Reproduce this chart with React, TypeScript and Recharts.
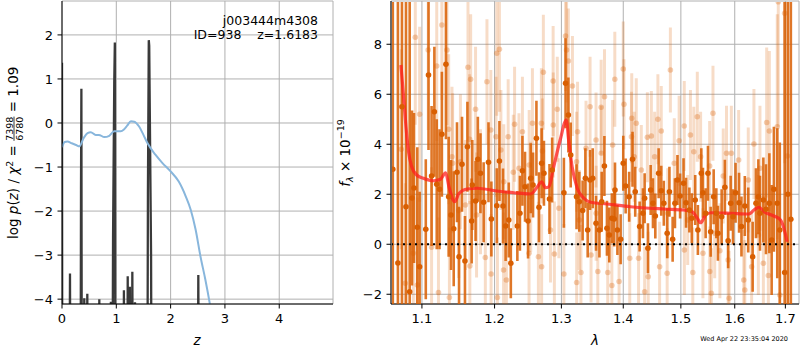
import React from 'react';
import { ComposedChart, Line, Scatter, ErrorBar, XAxis, YAxis, CartesianGrid, ReferenceLine } from 'recharts';

const FONT = 'DejaVu Sans';

// ---------- left panel: log p(z) ----------
const zTicks = [0, 1, 2, 3, 4];
const pzTicks = [-4, -3, -2, -1, 0, 1, 2];

const pzSpikes: [number, number][] = [
  [0, 1.37], [0.006, -8], [0.135, -8], [0.147, -3.42], [0.16, -8],
  [0.34, -8], [0.35, -1.5], [0.357, 0.78], [0.366, -8],
  [0.4, -8], [0.41, -3.98], [0.42, -8], [0.455, -8], [0.466, -3.88], [0.478, -8],
  [0.675, -8], [0.687, -4.0], [0.7, -8], [0.89, -8], [0.9, -4.06], [0.925, -8],
  [0.94, -2.6], [0.962, 0.9], [0.973, 1.83], [0.984, -8],
  [1.13, -8], [1.14, -3.8], [1.15, -8], [1.2, -8], [1.21, -3.48], [1.225, -8],
  [1.24, -8], [1.25, -3.72], [1.26, -8], [1.285, -8], [1.295, -3.38], [1.31, -8],
  [1.335, -8], [1.344, -4.07], [1.355, -8],
  [1.57, -8], [1.582, -1.6], [1.598, 1.88], [1.606, 1.75], [1.64, -3.0], [1.652, -8],
  [2.495, -8], [2.51, -3.45], [2.525, -8], [4.99, -8],
];

const pzSmooth: [number, number][] = [
  [0, -0.55], [0.05, -0.43], [0.1, -0.42], [0.18, -0.46], [0.26, -0.5], [0.32, -0.53],
  [0.4, -0.34], [0.47, -0.23], [0.53, -0.21], [0.62, -0.27], [0.68, -0.27], [0.78, -0.32],
  [0.87, -0.29], [0.96, -0.19], [1.08, -0.19], [1.14, -0.15], [1.2, -0.06], [1.27, 0.04],
  [1.33, 0.03], [1.42, -0.08], [1.5, -0.27], [1.57, -0.45], [1.72, -0.72], [1.85, -0.91],
  [2.0, -1.1], [2.15, -1.33], [2.28, -1.67], [2.37, -1.97], [2.46, -2.42], [2.55, -3.03],
  [2.64, -3.56], [2.72, -4.09], [2.8, -4.7],
];

// ---------- right panel: spectrum ----------
const wTicks = [1.1, 1.2, 1.3, 1.4, 1.5, 1.6, 1.7];
const fTicks = [-2, 0, 2, 4, 6, 8];

// [wavelength, flux, error]
const darkPts: [number, number, number][] = [
  [1.0623, 3.0, 20], [1.0688, -0.75, 20], [1.074, 5.5, 20], [1.0792, 1.5, 20], [1.084, -1.9, 20],
  [1.087, 1.85, 3.5], [1.0896, 2.25, 3.0], [1.0939, 0.68, 3.2], [1.097, -0.9, 3.0],
  [1.1051, 0.6, 2.8], [1.1087, 6.77, 3.0], [1.1128, 2.73, 2.8], [1.1165, 5.3, 2.6],
  [1.1197, 2.4, 2.6], [1.1234, 2.2, 2.4], [1.1266, 4.4, 2.5], [1.1321, 7.2, 3.0],
  [1.1358, 1.9, 2.4], [1.139, 1.17, 2.2], [1.1427, 0.62, 2.3], [1.1472, 2.88, 2.0],
  [1.15, -0.5, 2.0], [1.1541, 3.2, 1.9], [1.1582, -0.67, 1.8], [1.1616, 3.9, 1.8],
  [1.1675, 0.93, 1.7], [1.1684, 2.37, 1.8], [1.173, 1.73, 1.6], [1.1762, 3.4, 1.7],
  [1.1799, 2.84, 1.6], [1.1844, 1.68, 1.6], [1.1913, 3.28, 1.6], [1.1954, 1.01, 1.5],
  [1.2032, 1.54, 1.5], [1.207, 3.33, 1.6], [1.2122, 1.53, 1.5], [1.216, 0.73, 1.4],
  [1.2206, 0.97, 1.5], [1.2236, -0.76, 1.4], [1.2332, 0.73, 1.4], [1.237, 1.24, 1.5],
  [1.2407, 2.94, 1.4], [1.2446, 2.3, 1.4], [1.2491, 0.93, 1.5], [1.2531, 2.64, 1.4],
  [1.2566, 2.37, 1.3], [1.2617, 4.24, 1.5], [1.2656, 1.48, 1.4], [1.2696, 3.24, 1.4],
  [1.2731, 2.84, 1.3], [1.2816, 1.81, 1.4], [1.2857, 2.97, 1.3], [1.3039, 2.06, 1.4],
  [1.3065, 6.44, 1.8], [1.3109, 5.17, 1.5], [1.3146, 3.57, 1.3], [1.3238, 1.9, 1.3],
  [1.3282, 1.7, 1.2], [1.3335, 1.35, 1.2], [1.3379, 2.64, 1.2], [1.3416, 0.57, 1.1],
  [1.3454, 2.57, 1.2], [1.3497, 2.64, 1.2], [1.3551, 0.84, 1.1], [1.3606, 0.57, 1.1],
  [1.3643, 1.7, 1.2], [1.3687, 3.13, 1.2], [1.3729, 0.64, 1.1], [1.3768, 0.37, 1.1],
  [1.381, 1.04, 1.0], [1.3849, 1.01, 1.1], [1.3862, 2.17, 1.1], [1.3902, 0.57, 1.0],
  [1.3956, 0.2, 1.0], [1.4, 3.24, 1.1], [1.404, 2.33, 1.1], [1.4099, 1.9, 1.0],
  [1.4156, 3.4, 1.1], [1.4202, 2.1, 1.0], [1.4277, 0.71, 1.0], [1.4334, 1.24, 1.0],
  [1.4363, 1.84, 1.0], [1.442, -0.16, 1.0], [1.4467, 2.17, 1.0], [1.4507, 1.64, 1.0],
  [1.4548, 1.13, 0.9], [1.4606, 2.84, 1.0], [1.4652, 2.14, 1.0], [1.4697, 1.64, 0.9],
  [1.4756, 0.44, 1.0], [1.4796, 2.1, 1.0], [1.4853, 0.2, 0.9], [1.4894, 1.64, 1.0],
  [1.4939, 2.57, 1.0], [1.4986, 1.93, 0.9], [1.5048, 2.44, 1.0], [1.5093, 1.66, 1.0],
  [1.5154, 1.37, 0.9], [1.5197, 1.04, 1.0], [1.526, 1.77, 1.0], [1.5309, 0.57, 1.0],
  [1.5372, 2.84, 1.0], [1.5402, 2.06, 1.0], [1.5452, 1.24, 1.0], [1.5495, 2.84, 1.1],
  [1.5545, 0.5, 1.0], [1.5601, 1.9, 1.1], [1.5651, 1.24, 1.0], [1.5681, 0.44, 1.1],
  [1.5751, 1.1, 1.1], [1.5812, 2.28, 1.1], [1.5874, 0.14, 1.1], [1.5922, 1.64, 1.1],
  [1.5967, 1.1, 1.1], [1.6016, 2.06, 1.2], [1.6083, 1.66, 1.2], [1.6129, 0.71, 1.2],
  [1.6194, 1.53, 1.2], [1.6261, 0.97, 1.3], [1.6347, -0.5, 1.4], [1.6412, 1.64, 1.4],
  [1.6459, 1.9, 1.5], [1.6491, 1.24, 1.5], [1.6558, 1.77, 1.7], [1.661, 1.4, 1.8],
  [1.6677, 1.64, 2.0], [1.6723, 0.17, 2.2], [1.6768, 2.2, 2.5], [1.6836, 1.64, 3.0],
  [1.6887, 0.57, 3.5], [1.6986, -1.13, 20], [1.7051, 2.0, 20], [1.7112, 1.0, 20],
];

const lightPts: [number, number, number][] = [
  [1.0731, 3.8, 4.0], [1.0783, -1.56, 4.0], [1.0887, -0.36, 3.5], [1.0913, 8.28, 3.5],
  [1.0939, -1.63, 3.5], [1.097, 5.2, 3.5], [1.1083, 7.77, 3.2], [1.1128, -0.12, 3.2],
  [1.1197, 7.13, 3.0], [1.122, -1.93, 3.0], [1.1266, 8.77, 3.0], [1.1335, 7.77, 3.0],
  [1.1358, 4.6, 3.0], [1.1368, -2.13, 2.8], [1.1403, 3.5, 2.8], [1.1412, 3.24, 2.8],
  [1.1496, 1.35, 2.7], [1.1519, 3.3, 2.7], [1.1588, 1.57, 2.6], [1.1624, 7.08, 2.8],
  [1.1647, 4.2, 2.6], [1.165, -0.87, 2.6], [1.1661, 6.6, 2.6], [1.173, 5.4, 2.5],
  [1.1744, 1.17, 2.5], [1.1799, 2.1, 2.5], [1.1868, -0.53, 2.5], [1.1891, 6.5, 2.5],
  [1.1946, 4.57, 2.4], [1.195, -1.19, 2.4], [1.2021, 4.3, 2.4], [1.2032, 7.64, 2.5],
  [1.2041, -2.13, 2.4], [1.207, 7.8, 2.5], [1.2091, 3.77, 2.4], [1.213, -1.03, 2.3],
  [1.2133, 2.5, 2.3], [1.2171, -1.43, 2.3], [1.2197, 4.3, 2.3], [1.2272, 2.88, 2.3],
  [1.2291, 4.8, 2.3], [1.2356, 3.04, 2.2], [1.2407, 4.5, 2.2], [1.2506, -0.36, 2.2],
  [1.2508, 3.17, 2.2], [1.2531, 1.9, 2.2], [1.2557, 4.84, 2.2], [1.2647, -0.5, 2.2],
  [1.2692, 4.84, 2.2], [1.2696, -0.9, 2.1], [1.2707, 3.73, 2.1], [1.2722, 6.88, 2.3],
  [1.2831, 0.57, 2.1], [1.2872, 6.53, 2.2], [1.2874, 4.77, 2.1], [1.2891, -0.39, 2.1],
  [1.2936, 5.4, 2.1], [1.2961, 1.44, 2.0], [1.3039, -1.19, 2.0], [1.3065, 8.33, 2.2],
  [1.3081, 7.77, 2.1], [1.3109, 7.33, 2.1], [1.3173, 6.33, 2.0], [1.3238, 3.3, 2.0],
  [1.324, -1.53, 2.0], [1.3254, 4.5, 2.0], [1.3282, 0.97, 2.0], [1.3308, -1.13, 1.9],
  [1.3389, 3.84, 1.9], [1.3454, 5.5, 2.0], [1.347, -0.43, 1.9], [1.3551, 4.17, 1.9],
  [1.3553, 1.24, 1.9], [1.358, -1.09, 1.9], [1.3634, 5.48, 1.9], [1.3636, 3.64, 1.9],
  [1.3689, 5.9, 1.9], [1.3742, -1.13, 1.8], [1.381, -1.65, 1.8], [1.3823, 3.97, 1.8],
  [1.3859, 6.6, 1.9], [1.393, -1.49, 1.8], [1.4, 7.01, 1.9], [1.4012, 5.6, 1.8],
  [1.4109, -0.56, 1.8], [1.4138, 4.3, 1.8], [1.4143, 5.04, 1.8], [1.4185, 3.5, 1.8],
  [1.422, 4.84, 1.8], [1.4259, -0.56, 1.8], [1.4306, 2.97, 1.8], [1.4363, -1.9, 1.8],
  [1.441, 4.28, 1.8], [1.4425, -1.3, 1.8], [1.4479, 4.33, 1.8], [1.4536, 3.5, 1.8],
  [1.4593, 5.0, 1.8], [1.4623, -0.9, 1.8], [1.4652, 4.53, 1.8], [1.4756, -1.16, 1.8],
  [1.4766, 1.24, 1.8], [1.4813, 6.97, 1.7], [1.4882, 3.24, 1.8], [1.4969, 4.14, 1.8],
  [1.5061, 4.73, 1.8], [1.5063, -0.23, 1.8], [1.5123, 0.97, 1.8], [1.5173, 4.37, 1.8],
  [1.5216, -1.13, 1.8], [1.5234, 3.7, 1.8], [1.5298, 5.1, 1.8], [1.5359, 3.5, 1.8],
  [1.5402, -0.36, 1.8], [1.5526, 3.13, 1.8], [1.5528, -1.09, 1.8], [1.5558, -1.96, 1.8],
  [1.5588, 5.24, 1.9], [1.562, 0.44, 1.8], [1.5718, -0.26, 1.9], [1.5781, 2.73, 1.9],
  [1.5843, 3.64, 1.9], [1.5874, -0.63, 1.9], [1.5892, -2.16, 1.9], [1.5935, 3.64, 1.9],
  [1.6075, 3.37, 2.0], [1.6174, -1.43, 2.0], [1.6194, -1.83, 2.0], [1.6261, 2.57, 2.1],
  [1.6327, -0.9, 2.2], [1.6372, 4.01, 2.2], [1.6459, 0.37, 2.4], [1.6491, 3.04, 2.5],
  [1.6558, -0.76, 2.7], [1.6624, 4.87, 3.0], [1.6657, -1.25, 3.0], [1.6677, 4.53, 3.2],
  [1.6836, 4.7, 4.5], [1.6856, 9.7, 5.0], [1.6887, -2.03, 5.0], [1.6986, 9.24, 6.0],
  [1.7041, 3.53, 8.0],
];

const modelPts: [number, number][] = [
  [1.0727, 7.17], [1.0757, 6.04], [1.0792, 4.7], [1.0822, 3.77], [1.0866, 3.1],
  [1.0931, 2.77], [1.1018, 2.64], [1.1156, 2.54], [1.1248, 2.6], [1.1317, 2.86],
  [1.1362, 2.3], [1.1441, 1.7], [1.15, 2.04], [1.1616, 2.21], [1.1753, 2.24],
  [1.2032, 2.13], [1.2281, 2.06], [1.2531, 2.01], [1.2632, 2.3], [1.2696, 2.5],
  [1.2756, 2.26], [1.2806, 2.3], [1.2881, 3.1], [1.2981, 4.17], [1.3076, 4.97],
  [1.3113, 4.17], [1.3168, 3.1], [1.3249, 2.24], [1.3356, 1.84], [1.3465, 1.68],
  [1.3735, 1.61], [1.4121, 1.5], [1.4697, 1.41], [1.5048, 1.37], [1.5205, 1.3],
  [1.5298, 1.04], [1.5359, 0.86], [1.5452, 1.17], [1.5545, 1.26], [1.5917, 1.24],
  [1.6273, 1.21], [1.6372, 1.37], [1.6471, 1.48], [1.657, 1.3], [1.6768, 1.13],
  [1.6901, 0.97], [1.698, 0.57], [1.7035, 0.1],
];

const spikeData = pzSpikes.map(([z, v]) => ({ z, v }));
const smoothData = pzSmooth.map(([z, v]) => ({ z, v }));
const darkData = darkPts.map(([w, f, e]) => ({ w, f, e }));
const lightData = lightPts.map(([w, f, e]) => ({ w, f, e }));
const modelData = modelPts.map(([w, f]) => ({ w, f }));

const minus = (v: number) => String(v).replace('-', '\u2212');
const tickStyle = { fill: '#000', fontSize: 13, fontFamily: FONT };

const darkDot = (p: any) => <circle cx={p.cx} cy={p.cy} r={2.8} fill="#d95f02" />;
const lightDot = (p: any) => <circle cx={p.cx} cy={p.cy} r={2.8} fill="rgba(217,95,2,0.3)" />;

const W_DOMAIN: [number, number] = [1.06, 1.728];
const F_DOMAIN: [number, number] = [-2.39, 9.73];
const MARGIN = { top: 1, right: 1, bottom: 16, left: 0 };

export default function App() {
  return (
    <div style={{ position: 'fixed', left: 0, top: 0, width: 800, height: 350, background: '#fff' }}>
      {/* left panel */}
      <div style={{ position: 'absolute', left: 0, top: 0 }}>
        <ComposedChart width={340} height={350} margin={{ top: 1, right: 7, bottom: 16, left: 0 }}>
          <CartesianGrid stroke="#b0b0b0" strokeWidth={1} />
          <XAxis dataKey="z" type="number" domain={[0, 4.99]} ticks={zTicks} allowDataOverflow height={30}
            tickSize={4.5} tickMargin={5} tick={tickStyle} stroke="#000" tickFormatter={minus} />
          <YAxis type="number" domain={[-4.11, 2.77]} ticks={pzTicks} allowDataOverflow width={62}
            tickSize={4.5} tickMargin={4.5} tick={tickStyle} stroke="#000" tickFormatter={minus} />
          <XAxis xAxisId="top" orientation="top" type="number" domain={[0, 4.99]} height={0} tick={false} tickLine={false} stroke="#000" />
          <YAxis yAxisId="right" orientation="right" type="number" domain={[-4.11, 2.77]} width={0} tick={false} tickLine={false} stroke="#000" />
          <Line data={spikeData} dataKey="v" type="linear" stroke="#3a3a3a" strokeWidth={2.3} dot={false} isAnimationActive={false} />
          <Line data={smoothData} dataKey="v" type="monotone" stroke="#88b6dc" strokeWidth={2} dot={false} isAnimationActive={false} />
        </ComposedChart>
      </div>
      {/* right panel: axes, grid, spines */}
      <div style={{ position: 'absolute', left: 330, top: 0 }}>
        <ComposedChart width={470} height={350} margin={MARGIN}>
          <CartesianGrid stroke="#b0b0b0" strokeWidth={1} />
          <XAxis dataKey="w" type="number" scale="log" domain={W_DOMAIN} ticks={wTicks} allowDataOverflow height={30}
            tickSize={4.5} tickMargin={5} tick={tickStyle} stroke="#000" tickFormatter={(v: number) => v.toFixed(1)} />
          <YAxis dataKey="f" type="number" domain={F_DOMAIN} ticks={fTicks} allowDataOverflow width={61}
            tickSize={4.5} tickMargin={4.5} tick={tickStyle} stroke="#000" tickFormatter={minus} />
          <XAxis xAxisId="top" orientation="top" type="number" domain={[0, 1]} height={0} tick={false} tickLine={false} stroke="#000" />
          <YAxis yAxisId="right" orientation="right" type="number" domain={[0, 1]} width={0} tick={false} tickLine={false} stroke="#000" />
        </ComposedChart>
      </div>
      {/* right panel: data, clipped to the plot area */}
      <div style={{ position: 'absolute', left: 391.5, top: 1.5, width: 407, height: 302, overflow: 'hidden' }}>
        <div style={{ position: 'absolute', left: -61.5, top: -1.5 }}>
          <ComposedChart width={470} height={350} margin={MARGIN}>
            <XAxis dataKey="w" type="number" scale="log" domain={W_DOMAIN} allowDataOverflow height={30}
              tick={false} tickLine={false} axisLine={false} />
            <YAxis dataKey="f" type="number" domain={F_DOMAIN} allowDataOverflow width={61}
              tick={false} tickLine={false} axisLine={false} />
            <Scatter data={lightData} dataKey="f" shape={lightDot} isAnimationActive={false}>
              <ErrorBar dataKey="e" direction="y" width={0} stroke="rgba(217,95,2,0.22)" strokeWidth={3} />
            </Scatter>
            <Scatter data={darkData} dataKey="f" shape={darkDot} isAnimationActive={false}>
              <ErrorBar dataKey="e" direction="y" width={0} stroke="rgba(217,95,2,0.85)" strokeWidth={2.6} />
            </Scatter>
            <Line data={modelData} dataKey="f" type="monotone" stroke="rgba(255,30,30,0.75)" strokeWidth={3.2} dot={false} isAnimationActive={false} />
            <ReferenceLine y={0} stroke="#000" strokeWidth={2} strokeDasharray="2 4" />
          </ComposedChart>
        </div>
      </div>
      <svg width={800} height={350} style={{ position: 'absolute', left: 0, top: 0, pointerEvents: 'none' }} fontFamily={FONT}>
        <text x={318} y={24.5} textAnchor="end" fontSize={12.5} fill="#000">j003444m4308</text>
        <text x={318} y={39} textAnchor="end" fontSize={12.5} fill="#000" style={{ whiteSpace: 'pre' }}>ID=938    z=1.6183</text>
        <text x={197} y={345} textAnchor="middle" fontSize={13.5} fontStyle="italic" fill="#000">z</text>
        <text x={595} y={345} textAnchor="middle" fontSize={13.5} fontStyle="italic" fill="#000">λ</text>
        <text x={788} y={341} textAnchor="end" fontSize={6.5} fill="#000">Wed Apr 22 23:35:04 2020</text>
        <g transform="translate(18,153) rotate(-90)">
          <text x={-86} y={0} fontSize={13.5} fill="#000" style={{ whiteSpace: 'pre' }}>
            <tspan>log </tspan>
            <tspan fontStyle="italic">p</tspan>
            <tspan>(</tspan><tspan fontStyle="italic">z</tspan><tspan>) / </tspan>
            <tspan fontStyle="italic">χ</tspan>
            <tspan fontSize={9.5} dy={-5.5}>2</tspan>
            <tspan dy={5.5}> = </tspan>
          </text>
          <text x={24.3} y={-5.5} fontSize={9.5} textAnchor="middle" fill="#000">7398</text>
          <line x1={12.2} x2={36.4} y1={-4} y2={-4} stroke="#000" strokeWidth={0.8} />
          <text x={24.3} y={4.6} fontSize={9.5} textAnchor="middle" fill="#000">6780</text>
          <text x={36.4} y={0} fontSize={13.5} fill="#000" style={{ whiteSpace: 'pre' }}> = 1.09</text>
        </g>
        <g transform="translate(350,153) rotate(-90)">
          <text x={0} y={0} fontSize={13.5} textAnchor="middle" fill="#000" style={{ whiteSpace: 'pre' }}>
            <tspan fontStyle="italic">f</tspan>
            <tspan fontSize={9.5} fontStyle="italic" dy={3}>λ</tspan>
            <tspan dy={-3}> × 10</tspan>
            <tspan fontSize={9.5} dy={-6}>−19</tspan>
          </text>
        </g>
      </svg>
    </div>
  );
}
